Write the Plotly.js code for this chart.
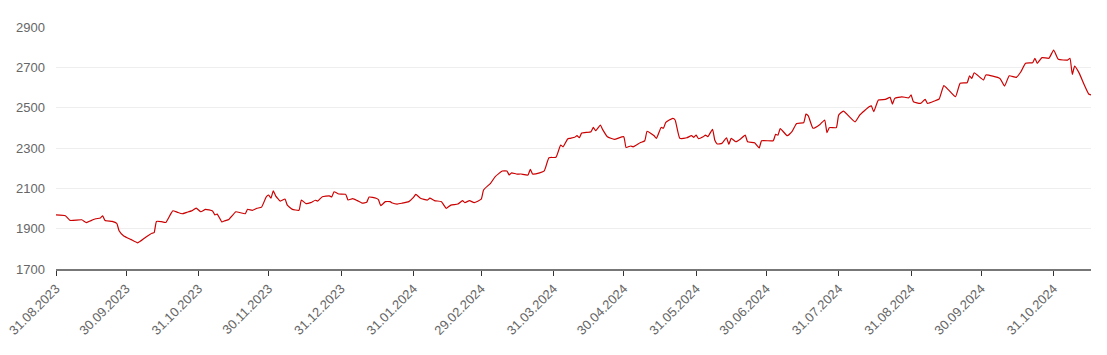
<!DOCTYPE html>
<html>
<head>
<meta charset="utf-8">
<script src="https://cdn.plot.ly/plotly-3.0.1.min.js"></script>
<style>html,body{margin:0;padding:0;background:#fff;}#chart{width:1107px;height:355px;}</style>
</head>
<body>
<div id="chart"></div>
<script>
const dates = [
"2023-08-31","2023-09-04","2023-09-06","2023-09-11","2023-09-13","2023-09-15","2023-09-17","2023-09-19","2023-09-20","2023-09-21",
"2023-09-24","2023-09-26","2023-09-27","2023-09-29","2023-10-02","2023-10-05","2023-10-08","2023-10-11","2023-10-12","2023-10-13",
"2023-10-15","2023-10-17","2023-10-19","2023-10-20","2023-10-22","2023-10-24","2023-10-26","2023-10-28","2023-10-30","2023-11-01",
"2023-11-03","2023-11-06","2023-11-07","2023-11-08","2023-11-10","2023-11-11","2023-11-13","2023-11-14","2023-11-16","2023-11-18",
"2023-11-20","2023-11-21","2023-11-23","2023-11-25","2023-11-27","2023-11-29","2023-11-30","2023-12-01","2023-12-02","2023-12-03",
"2023-12-05","2023-12-07","2023-12-08","2023-12-10","2023-12-13","2023-12-14","2023-12-16","2023-12-18","2023-12-20","2023-12-21",
"2023-12-23","2023-12-26","2023-12-27","2023-12-28","2023-12-30","2024-01-02","2024-01-03","2024-01-05","2024-01-07","2024-01-09",
"2024-01-11","2024-01-12","2024-01-15","2024-01-16","2024-01-17","2024-01-19","2024-01-21","2024-01-22","2024-01-24","2024-01-26",
"2024-01-29","2024-01-31","2024-02-01","2024-02-03","2024-02-06","2024-02-07","2024-02-09","2024-02-12","2024-02-13","2024-02-14",
"2024-02-16","2024-02-19","2024-02-21","2024-02-22","2024-02-24","2024-02-26","2024-02-29","2024-03-01","2024-03-04","2024-03-06",
"2024-03-09","2024-03-11","2024-03-12","2024-03-13","2024-03-15","2024-03-17","2024-03-20","2024-03-21","2024-03-22","2024-03-25",
"2024-03-27","2024-03-29","2024-04-01","2024-04-03","2024-04-04","2024-04-06","2024-04-07","2024-04-09","2024-04-10","2024-04-11",
"2024-04-12","2024-04-16","2024-04-17","2024-04-18","2024-04-20","2024-04-21","2024-04-23","2024-04-26","2024-04-30","2024-05-01",
"2024-05-03","2024-05-04","2024-05-07","2024-05-09","2024-05-10","2024-05-13","2024-05-14","2024-05-16","2024-05-17","2024-05-18",
"2024-05-21","2024-05-22","2024-05-24","2024-05-27","2024-05-29","2024-05-30","2024-05-31","2024-06-01","2024-06-03","2024-06-04",
"2024-06-05","2024-06-07","2024-06-08","2024-06-09","2024-06-11","2024-06-13","2024-06-14","2024-06-15","2024-06-17","2024-06-19",
"2024-06-21","2024-06-22","2024-06-25","2024-06-27","2024-06-28","2024-07-03","2024-07-04","2024-07-05","2024-07-06","2024-07-09",
"2024-07-11","2024-07-13","2024-07-16","2024-07-17","2024-07-18","2024-07-20","2024-07-23","2024-07-25","2024-07-26","2024-07-27",
"2024-07-30","2024-07-31","2024-08-02","2024-08-07","2024-08-09","2024-08-13","2024-08-14","2024-08-15","2024-08-17","2024-08-20",
"2024-08-22","2024-08-23","2024-08-24","2024-08-27","2024-08-30","2024-08-31","2024-09-01","2024-09-04","2024-09-06","2024-09-07",
"2024-09-10","2024-09-12","2024-09-14","2024-09-16","2024-09-19","2024-09-21","2024-09-24","2024-09-25","2024-09-26","2024-09-27",
"2024-10-01","2024-10-02","2024-10-08","2024-10-10","2024-10-12","2024-10-15","2024-10-17","2024-10-19","2024-10-22","2024-10-23",
"2024-10-24","2024-10-26","2024-10-29","2024-10-31","2024-11-02","2024-11-06","2024-11-07","2024-11-08","2024-11-09","2024-11-11",
"2024-11-13","2024-11-15","2024-11-16"
];
const values = [
1968,1964,1941,1944,1930,1940,1949,1953,1964,1940,
1936,1926,1890,1864,1847,1830,1854,1877,1880,1936,
1935,1931,1971,1989,1981,1974,1981,1988,2002,1984,
1996,1988,1968,1972,1933,1938,1946,1959,1984,1979,
1974,1996,1991,2001,2007,2058,2067,2051,2088,2063,
2037,2047,2017,1997,1991,2042,2024,2029,2041,2037,
2058,2063,2057,2083,2072,2070,2042,2049,2039,2027,
2031,2057,2051,2044,2014,2034,2034,2027,2022,2026,
2034,2055,2070,2051,2042,2051,2039,2034,2017,2001,
2017,2022,2039,2029,2039,2029,2046,2092,2125,2158,
2186,2186,2166,2177,2171,2171,2166,2194,2171,2177,
2187,2252,2254,2315,2306,2345,2348,2353,2361,2351,
2374,2381,2402,2386,2414,2391,2356,2343,2356,2303,
2310,2306,2326,2336,2383,2361,2348,2402,2398,2427,
2447,2439,2348,2351,2361,2353,2364,2346,2356,2364,
2356,2393,2338,2320,2323,2351,2318,2348,2331,2345,
2364,2331,2326,2301,2336,2336,2368,2364,2396,2361,
2381,2422,2425,2468,2459,2398,2417,2439,2376,2401,
2401,2463,2483,2430,2463,2504,2509,2480,2538,2541,
2551,2518,2546,2554,2549,2563,2529,2521,2541,2521,
2533,2543,2609,2588,2554,2621,2624,2658,2645,2673,
2637,2662,2645,2607,2658,2650,2678,2720,2723,2745,
2720,2748,2745,2786,2740,2736,2745,2665,2706,2670,
2616,2568,2563
];
const tickDates = ["2023-08-31","2023-09-30","2023-10-31","2023-11-30","2023-12-31","2024-01-31","2024-02-29","2024-03-31","2024-04-30","2024-05-31","2024-06-30","2024-07-31","2024-08-31","2024-09-30","2024-10-31"];
const tickLabels = ["31.08.2023","30.09.2023","31.10.2023","30.11.2023","31.12.2023","31.01.2024","29.02.2024","31.03.2024","30.04.2024","31.05.2024","30.06.2024","31.07.2024","31.08.2024","30.09.2024","31.10.2024"];
const yTicks = [1700,1900,2100,2300,2500,2700,2900];

const trace = {
  x: dates, y: values, type: "scatter", mode: "lines",
  line: {color: "#cc0000", width: 1.2, shape: "spline", smoothing: 0.4},
  hoverinfo: "x+y"
};
const layout = {
  width: 1107, height: 355,
  margin: {l: 56, r: 16, t: 27, b: 86},
  paper_bgcolor: "#ffffff", plot_bgcolor: "#ffffff",
  showlegend: false,
  font: {family: "Liberation Sans, Arial, sans-serif", size: 13, color: "#666666"},
  xaxis: {
    type: "date",
    range: ["2023-08-31", "2024-11-16"],
    tickmode: "array", tickvals: tickDates, ticktext: tickLabels,
    tickangle: -45,
    ticks: "outside", ticklen: 5, tickcolor: "#333333", tickwidth: 1,
    showline: true, linecolor: "#777777", linewidth: 2,
    showgrid: false, zeroline: false,
    tickfont: {size: 13, color: "#666666"}
  },
  yaxis: {
    range: [1700, 2900],
    tickmode: "array", tickvals: yTicks,
    showgrid: true, gridcolor: "#eeeeee", gridwidth: 1,
    zeroline: false, showline: false, ticks: "",
    ticklabelstandoff: 10,
    tickfont: {size: 13, color: "#666666"}
  }
};
Plotly.newPlot("chart", [trace], layout, {displayModeBar: false, staticPlot: true});
</script>
</body>
</html>
